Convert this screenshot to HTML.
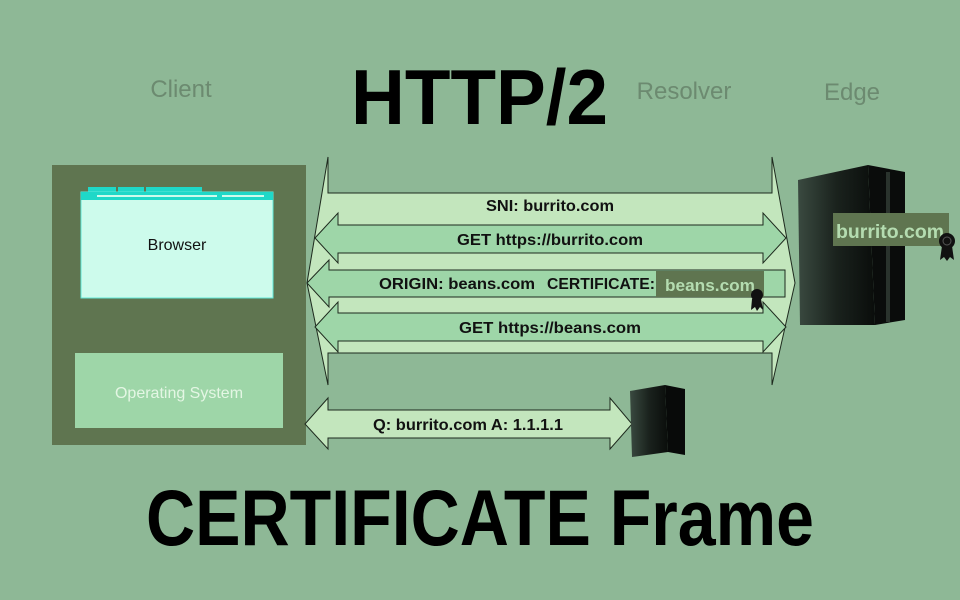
<!DOCTYPE html>
<html><head><meta charset="utf-8"><style>
html,body{margin:0;padding:0;background:#8eb896;}
svg{display:block}
</style></head><body>
<svg width="960" height="600" viewBox="0 0 960 600" xmlns="http://www.w3.org/2000/svg" font-family="Liberation Sans, sans-serif">
<defs>
<linearGradient id="srv" x1="0" x2="1" y1="0" y2="0">
<stop offset="0" stop-color="#3a4a40"/><stop offset="0.5" stop-color="#1a221d"/><stop offset="1" stop-color="#0a0d0b"/>
</linearGradient>
</defs>
<rect width="960" height="600" fill="#8eb896"/>
<text x="181" y="97" font-size="24" fill="#6c8a70" text-anchor="middle">Client</text>
<text x="684" y="99" font-size="24" fill="#6c8a70" text-anchor="middle">Resolver</text>
<text x="852" y="100" font-size="24" fill="#6c8a70" text-anchor="middle">Edge</text>
<text x="351" y="124" font-size="78" font-weight="bold" fill="#000" textLength="257" lengthAdjust="spacingAndGlyphs">HTTP/2</text>
<text x="146" y="545" font-size="79" font-weight="bold" fill="#000" textLength="668" lengthAdjust="spacingAndGlyphs">CERTIFICATE Frame</text>
<rect x="52" y="165" width="254" height="280" fill="#5f7550"/>
<rect x="88" y="187" width="28" height="5" fill="#1fd8c8"/>
<rect x="118" y="187" width="26" height="5" fill="#1fd8c8"/>
<rect x="146" y="187" width="56" height="5" fill="#1fd8c8"/>
<rect x="81" y="192" width="192" height="106" fill="#cdfbec" stroke="#5fe8d8" stroke-width="1"/>
<rect x="81" y="192" width="192" height="8" fill="#1fd8c8"/>
<rect x="97" y="195" width="120" height="2" fill="#cdfbec"/>
<rect x="222" y="195" width="42" height="2" fill="#cdfbec"/>
<text x="177" y="250" font-size="16" fill="#111" text-anchor="middle">Browser</text>
<rect x="75" y="353" width="208" height="75" fill="#9ed6a8"/>
<text x="179" y="398" font-size="16" fill="#e4f6e4" text-anchor="middle">Operating System</text>
<polygon points="307,283 328,157 328,193 772,193 772,157 795,283 772,385 772,353 328,353 328,385" fill="#c3e6bd" stroke="#1e2a1e" stroke-width="1"/>
<text x="550" y="211" font-size="15.5" font-weight="bold" fill="#111" text-anchor="middle" textLength="128" lengthAdjust="spacingAndGlyphs">SNI: burrito.com</text>
<polygon points="315,238 338,213 338,225 763,225 763,213 786,238 763,263 763,253 338,253 338,263" fill="#9ed6a8" stroke="#1e2a1e" stroke-width="1"/>
<text x="550" y="245" font-size="15.5" font-weight="bold" fill="#111" text-anchor="middle" textLength="186" lengthAdjust="spacingAndGlyphs">GET https://burrito.com</text>
<polygon points="307,283 329,260 329,270 785,270 785,297 329,297 329,307" fill="#9ed6a8" stroke="#1e2a1e" stroke-width="1"/>
<text x="379" y="289" font-size="15.5" font-weight="bold" fill="#111" textLength="156" lengthAdjust="spacingAndGlyphs">ORIGIN: beans.com</text>
<text x="547" y="289" font-size="15.5" font-weight="bold" fill="#111" textLength="108" lengthAdjust="spacingAndGlyphs">CERTIFICATE:</text>
<rect x="656" y="271" width="108" height="26" fill="#5f7550"/>
<text x="665" y="291" font-size="17" font-weight="bold" fill="#b4dcb0" textLength="90" lengthAdjust="spacingAndGlyphs">beans.com</text>
<polygon points="315,327 338,302 338,313 763,313 763,302 786,327 763,352 763,341 338,341 338,352" fill="#9ed6a8" stroke="#1e2a1e" stroke-width="1"/>
<text x="550" y="333" font-size="15.5" font-weight="bold" fill="#111" text-anchor="middle" textLength="182" lengthAdjust="spacingAndGlyphs">GET https://beans.com</text>
<circle cx="757" cy="295" r="6" fill="#111"/>
<polygon points="752,299 751,310 755,307 757,311 760,307 763,310 761,299" fill="#111"/>
<polygon points="305,424 328,398 328,410 610,410 610,398 632,424 610,449 610,438 328,438 328,449" fill="#c3e6bd" stroke="#1e2a1e" stroke-width="1"/>
<text x="468" y="430" font-size="15.5" font-weight="bold" fill="#111" text-anchor="middle" textLength="190" lengthAdjust="spacingAndGlyphs">Q: burrito.com A: 1.1.1.1</text>
<polygon points="630,391 665,385 668,452 632,457" fill="url(#srv)"/>
<polygon points="665,385 685,389 685,455 668,452" fill="#080a09"/>
<polygon points="798,180 868,165 875,325 800,325" fill="url(#srv)"/>
<polygon points="868,165 905,172 905,320 875,325" fill="#0a0c0b"/>
<rect x="886" y="172" width="4" height="150" fill="#2a332d"/>
<rect x="833" y="213" width="116" height="33" fill="#5f7550"/>
<text x="836" y="238" font-size="19" font-weight="bold" fill="#b4dcb0" textLength="108" lengthAdjust="spacingAndGlyphs">burrito.com</text>
<circle cx="947" cy="241" r="8" fill="#111"/>
<circle cx="947" cy="241" r="4" fill="none" stroke="#555" stroke-width="1"/>
<polygon points="942,246 940,260 944,257 947,261 950,257 954,260 952,246" fill="#111"/>
</svg>
</body></html>
